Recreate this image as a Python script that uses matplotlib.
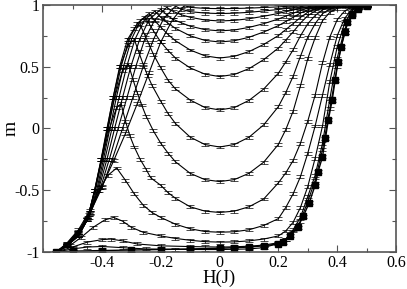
import matplotlib
matplotlib.use("Agg")
import matplotlib.pyplot as plt
from matplotlib.ticker import MultipleLocator

# major ascending branch (square symbols)
h_sq = [-0.556, -0.5, -0.4, -0.3, -0.2, -0.1, 0.0, 0.05, 0.1, 0.15, 0.2, 0.217, 0.24, 0.265,
        0.285, 0.305, 0.325, 0.335, 0.35, 0.36, 0.37, 0.383, 0.393, 0.403, 0.413, 0.427,
        0.434, 0.45, 0.47, 0.5]
m_sq = [-1.0, -0.993, -0.988, -0.984, -0.98, -0.975, -0.97, -0.965, -0.96, -0.95, -0.935, -0.92,
        -0.87, -0.8, -0.71, -0.6, -0.46, -0.35, -0.23, -0.08, 0.07, 0.23, 0.39, 0.54, 0.66,
        0.78, 0.86, 0.92, 0.97, 0.99]

# right half of every curve is read on this field grid
h_right = [0.0, 0.05, 0.1, 0.15, 0.2, 0.225, 0.25, 0.275, 0.3, 0.325, 0.35, 0.375, 0.4,
           0.425, 0.45, 0.475, 0.5]

# curve A (minimum 0.97)
h_la = [-0.556, -0.52, -0.48, -0.44, -0.4, -0.36, -0.32, -0.28, -0.24, -0.2, -0.16, -0.12,
        -0.1, -0.05]
m_la = [-1.0, -0.93, -0.82, -0.66, -0.47, -0.26, -0.04, 0.2, 0.45, 0.7, 0.88, 0.995, 0.98, 0.972]
m_ra = [0.970, 0.971, 0.974, 0.979, 0.984, 0.988, 0.991, 0.994, 0.997, 0.998, 0.999, 0.999,
        1.0, 1.0, 1.0, 1.0, 1.0]
# curve B (0.93)
h_lb = [-0.556, -0.52, -0.48, -0.44, -0.4, -0.365, -0.33, -0.295, -0.26, -0.225, -0.19, -0.15,
        -0.13, -0.1, -0.05]
m_lb = [-1.0, -0.935, -0.83, -0.68, -0.48, -0.25, 0.0, 0.25, 0.5, 0.72, 0.89, 0.99, 0.965,
        0.945, 0.934]
m_rb = [0.930, 0.933, 0.940, 0.951, 0.963, 0.971, 0.978, 0.986, 0.992, 0.996, 0.998, 0.999,
        0.999, 1.0, 1.0, 1.0, 1.0]
# curve C (0.87)
h_lc = [-0.556, -0.52, -0.48, -0.44, -0.405, -0.375, -0.345, -0.315, -0.285, -0.255, -0.22,
        -0.18, -0.16, -0.13, -0.1, -0.05]
m_lc = [-1.0, -0.94, -0.84, -0.69, -0.48, -0.25, 0.0, 0.25, 0.5, 0.72, 0.88, 0.98, 0.95, 0.92,
        0.9, 0.878]
m_rc = [0.870, 0.875, 0.888, 0.908, 0.931, 0.945, 0.958, 0.973, 0.985, 0.992, 0.996, 0.998,
        0.999, 0.999, 1.0, 1.0, 1.0]
# curve D (0.79)
h_ld = [-0.556, -0.52, -0.48, -0.445, -0.41, -0.383, -0.357, -0.33, -0.302, -0.272, -0.24,
        -0.2, -0.18, -0.16, -0.13, -0.1, -0.05]
m_ld = [-1.0, -0.94, -0.85, -0.7, -0.48, -0.25, 0.0, 0.25, 0.5, 0.72, 0.88, 0.965, 0.92,
        0.885, 0.855, 0.828, 0.8]
m_rd = [0.790, 0.797, 0.818, 0.848, 0.886, 0.909, 0.932, 0.955, 0.974, 0.986, 0.994, 0.997,
        0.999, 0.999, 1.0, 1.0, 1.0]
# curve E (0.70)
h_le = [-0.556, -0.52, -0.48, -0.445, -0.415, -0.39, -0.366, -0.342, -0.316, -0.288, -0.255,
        -0.22, -0.2, -0.18, -0.15, -0.1, -0.05]
m_le = [-1.0, -0.945, -0.86, -0.72, -0.5, -0.25, 0.0, 0.25, 0.5, 0.72, 0.88, 0.95, 0.9, 0.86,
        0.81, 0.75, 0.713]
m_re = [0.700, 0.710, 0.738, 0.781, 0.832, 0.866, 0.899, 0.934, 0.961, 0.979, 0.990, 0.996,
        0.998, 0.999, 1.0, 1.0, 1.0]
# curve F (0.57)
h_lf = [-0.556, -0.52, -0.48, -0.447, -0.418, -0.395, -0.373, -0.351, -0.327, -0.3, -0.27,
        -0.24, -0.22, -0.2, -0.175, -0.15, -0.1, -0.05]
m_lf = [-1.0, -0.95, -0.865, -0.72, -0.5, -0.25, 0.0, 0.25, 0.5, 0.72, 0.87, 0.93, 0.87, 0.82,
        0.76, 0.71, 0.635, 0.588]
m_rf = [0.570, 0.584, 0.622, 0.680, 0.752, 0.800, 0.848, 0.899, 0.941, 0.967, 0.985, 0.993,
        0.997, 0.999, 0.999, 1.0, 1.0]
# curve G (0.42)
h_lg = [-0.556, -0.52, -0.48, -0.45, -0.422, -0.4, -0.379, -0.358, -0.335, -0.308, -0.28,
        -0.255, -0.24, -0.225, -0.2, -0.175, -0.15, -0.1, -0.05]
m_lg = [-1.0, -0.95, -0.87, -0.73, -0.5, -0.25, 0.0, 0.25, 0.5, 0.72, 0.85, 0.9, 0.85, 0.79,
        0.7, 0.63, 0.57, 0.49, 0.44]
m_rg = [0.420, 0.437, 0.484, 0.557, 0.651, 0.715, 0.781, 0.853, 0.913, 0.951, 0.978, 0.990,
        0.995, 0.998, 0.999, 1.0, 1.0]
# curve H (0.15)
h_lh = [-0.556, -0.52, -0.48, -0.45, -0.424, -0.402, -0.382, -0.362, -0.34, -0.313, -0.29,
        -0.27, -0.255, -0.24, -0.225, -0.2, -0.175, -0.15, -0.1, -0.05]
m_lh = [-1.0, -0.95, -0.87, -0.74, -0.5, -0.25, 0.0, 0.25, 0.5, 0.72, 0.81, 0.84, 0.76, 0.68,
        0.6, 0.49, 0.39, 0.32, 0.23, 0.17]
m_rh = [0.150, 0.169, 0.227, 0.319, 0.447, 0.538, 0.636, 0.749, 0.848, 0.914, 0.960, 0.982,
        0.992, 0.997, 0.998, 0.999, 1.0]
# curve I (-0.15)
h_li = [-0.556, -0.52, -0.48, -0.45, -0.425, -0.403, -0.383, -0.362, -0.338, -0.31, -0.29,
        -0.275, -0.26, -0.245, -0.23, -0.2, -0.175, -0.15, -0.1, -0.05]
m_li = [-1.0, -0.95, -0.87, -0.74, -0.5, -0.25, 0.0, 0.25, 0.5, 0.68, 0.72, 0.62, 0.52, 0.43,
        0.35, 0.22, 0.12, 0.04, -0.07, -0.13]
m_ri = [-0.150, -0.130, -0.071, 0.029, 0.177, 0.290, 0.421, 0.584, 0.739, 0.848, 0.929, 0.967,
        0.985, 0.994, 0.997, 0.998, 0.999]
# curve J (-0.43)
h_lj = [-0.556, -0.52, -0.48, -0.45, -0.425, -0.402, -0.38, -0.357, -0.33, -0.31, -0.295,
        -0.28, -0.265, -0.25, -0.225, -0.2, -0.175, -0.15, -0.1, -0.05]
m_lj = [-1.0, -0.95, -0.87, -0.74, -0.5, -0.25, 0.0, 0.25, 0.47, 0.52, 0.4, 0.29, 0.19, 0.1,
        -0.02, -0.12, -0.2, -0.27, -0.363, -0.414]
m_rj = [-0.430, -0.414, -0.363, -0.273, -0.129, -0.010, 0.139, 0.345, 0.565, 0.735, 0.872,
        0.940, 0.973, 0.990, 0.996, 0.998, 0.999]
# curve K (-0.68)
h_lk = [-0.556, -0.52, -0.48, -0.45, -0.424, -0.4, -0.375, -0.35, -0.335, -0.32, -0.305, -0.29,
        -0.27, -0.25, -0.234, -0.2, -0.175, -0.15, -0.1, -0.05]
m_lk = [-1.0, -0.95, -0.87, -0.74, -0.5, -0.25, 0.0, 0.17, 0.2, 0.06, -0.06, -0.15, -0.25,
        -0.33, -0.4, -0.46, -0.52, -0.565, -0.634, -0.669]
m_rk = [-0.680, -0.669, -0.634, -0.571, -0.44, -0.36, -0.26, -0.12, 0.06, 0.27, 0.53, 0.74,
        0.88, 0.95, 0.985, 0.995, 0.999]
# curve L (-0.84)
h_ll = [-0.556, -0.52, -0.48, -0.44, -0.41, -0.38, -0.35, -0.32, -0.29, -0.26, -0.23, -0.2,
        -0.15, -0.1, -0.05]
m_ll = [-1.0, -0.94, -0.84, -0.68, -0.5, -0.38, -0.32, -0.42, -0.53, -0.62, -0.68, -0.72,
        -0.775, -0.812, -0.834]
m_rl = [-0.84, -0.836, -0.82, -0.785, -0.73, -0.64, -0.53, -0.39, -0.2, 0.02, 0.27, 0.52,
        0.75, 0.89, 0.965, 0.99, 0.998]
# curve M (-0.92)
h_lm = [-0.556, -0.51, -0.47, -0.43, -0.39, -0.36, -0.33, -0.3, -0.26, -0.2, -0.15, -0.1,
        -0.05]
m_lm = [-1.0, -0.95, -0.88, -0.8, -0.74, -0.72, -0.75, -0.8, -0.84, -0.87, -0.89, -0.905,
        -0.916]
m_rm = [-0.92, -0.918, -0.91, -0.895, -0.87, -0.83, -0.76, -0.64, -0.47, -0.24, 0.02, 0.38,
        0.66, 0.85, 0.955, 0.987, 0.997]
# curve N (-0.96)
h_ln = [-0.556, -0.5, -0.45, -0.4, -0.37, -0.33, -0.28, -0.2, -0.1, -0.05]
m_ln = [-1.0, -0.96, -0.92, -0.9, -0.895, -0.91, -0.935, -0.95, -0.956, -0.958]
m_rn = [-0.96, -0.958, -0.953, -0.944, -0.925, -0.895, -0.82, -0.72, -0.55, -0.38, -0.12, 0.24,
        0.57, 0.8, 0.94, 0.982, 0.996]
# curve O (-0.98)
h_lo = [-0.556, -0.5, -0.45, -0.4, -0.33, -0.25, -0.15, -0.05]
m_lo = [-1.0, -0.975, -0.96, -0.955, -0.965, -0.975, -0.979, -0.98]
m_ro = [-0.98, -0.978, -0.975, -0.965, -0.93, -0.9, -0.83, -0.75, -0.59, -0.42, -0.17, 0.16,
        0.5, 0.78, 0.93, 0.977, 0.994]

left_parts = [(h_la, m_la), (h_lb, m_lb), (h_lc, m_lc), (h_ld, m_ld), (h_le, m_le),
              (h_lf, m_lf), (h_lg, m_lg), (h_lh, m_lh), (h_li, m_li), (h_lj, m_lj),
              (h_lk, m_lk), (h_ll, m_ll), (h_lm, m_lm), (h_ln, m_ln), (h_lo, m_lo)]
right_parts = [m_ra, m_rb, m_rc, m_rd, m_re, m_rf, m_rg, m_rh, m_ri, m_rj, m_rk, m_rl, m_rm,
               m_rn, m_ro]
m_err = 0.012

plt.rcParams['font.family'] = ['Liberation Serif', 'DejaVu Serif']

fig = plt.figure(figsize=(4.07, 2.89), dpi=100)
ax = fig.add_axes([0.106, 0.128, 0.867, 0.855])

for (hl, ml), mr in zip(left_parts, right_parts):
    ax.errorbar(hl + h_right, ml + mr, yerr=m_err, color='black', lw=0.8,
                elinewidth=0.5, capsize=3, capthick=0.5, fmt='-')
ax.errorbar(h_sq, m_sq, yerr=m_err, color='black', lw=1.0, marker='s', ms=5,
            elinewidth=0.5, capsize=3, capthick=0.5)

ax.set_xlim(-0.6, 0.6)
ax.set_ylim(-1, 1)
ax.xaxis.set_minor_locator(MultipleLocator(0.1))
ax.yaxis.set_minor_locator(MultipleLocator(0.25))
ax.set_xticks([-0.4, -0.2, 0, 0.2, 0.4, 0.6])
ax.set_xticklabels(['-0.4', '-0.2', '0', '0.2', '0.4', '0.6'])
ax.set_yticks([-1, -0.5, 0, 0.5, 1])
ax.set_yticklabels(['-1', '-0.5', '0', '0.5', '1'])
ax.tick_params(which='both', direction='in', top=True, right=True, labelsize=11.5,
               width=0.8, color='#555555')
ax.tick_params(which='major', length=5, pad=2.5)
ax.tick_params(which='minor', length=3)
for s in ax.spines.values():
    s.set_linewidth(1.2)
    s.set_color('#555555')

ax.set_xlabel('H(J)', fontsize=13.5, labelpad=-1)
ax.set_ylabel('m', fontsize=14)
ax.yaxis.set_label_coords(-0.066, 0.5)

fig.savefig('out.png', dpi=100)
